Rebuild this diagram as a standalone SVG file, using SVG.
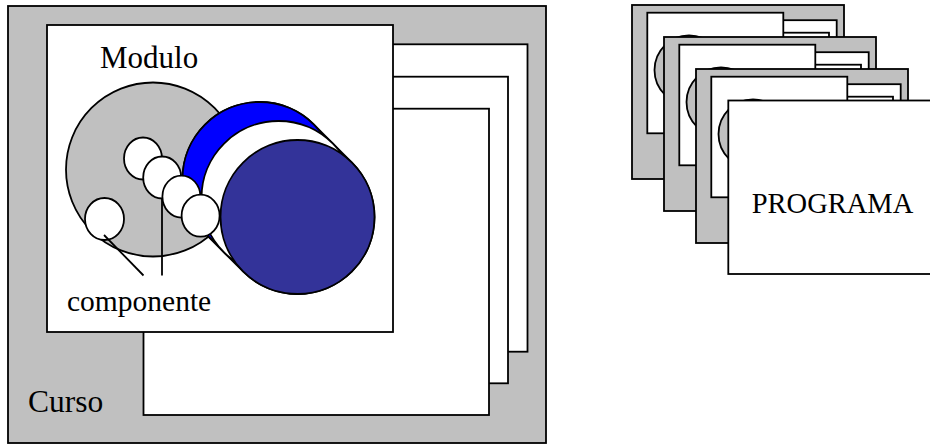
<svg xmlns="http://www.w3.org/2000/svg" width="930" height="447" viewBox="0 0 930 447">
<style>
.s{stroke:#000;stroke-width:1.8}
.g{fill:#C0C0C0}
.w{fill:#fff}
.b{fill:#0000FF}
.d{fill:#333399}
.ln{stroke:#000;stroke-width:1.8;fill:none}
text{font-family:'Liberation Serif','Times New Roman',serif;fill:#000}
</style>
<rect width="930" height="447" fill="#fff"/>
<g id="curso">
<rect class="s g" x="8" y="6" width="538" height="437"/>
<rect class="s w" x="182" y="44.3" width="345.5" height="307.4"/>
<rect class="s w" x="163" y="76.7" width="345" height="306.6"/>
<rect class="s w" x="143.5" y="108.7" width="345.5" height="306.3"/>
<text x="28" y="411.5" font-size="31.5">Curso</text>
</g>
<g id="modulo">
<rect class="s w" x="47" y="25" width="346" height="307"/>
<text x="100" y="68.3" font-size="31">Modulo</text>
<circle class="s g" cx="153" cy="169.5" r="87"/>
</g>
<g id="discos">
<path class="s w" d="M313.95 124.55 L351.95 162.55 A77 77 0 0 1 243.05 271.45 L205.05 233.45 A77 77 0 0 1 313.95 124.55 Z"/>
<circle class="s b" cx="259.5" cy="179" r="77"/>
<circle class="s w" cx="278.5" cy="198" r="77"/>
<circle class="s d" cx="297.5" cy="217" r="77"/>
</g>
<g id="componentes">
<ellipse class="s w" cx="143" cy="158.5" rx="19" ry="21"/>
<ellipse class="s w" cx="162.2" cy="177.5" rx="19" ry="21"/>
<ellipse class="s w" cx="181.4" cy="196.6" rx="19" ry="21"/>
<ellipse class="s w" cx="200.6" cy="215.7" rx="19" ry="21"/>
<ellipse class="s w" cx="104.5" cy="219" rx="19.5" ry="21"/>
<text x="67" y="311" font-size="29.5">componente</text>
</g>
<g id="connectors">
<line class="ln" x1="104" y1="235" x2="143.5" y2="275.5"/>
<line class="ln" x1="162" y1="198" x2="162" y2="275.5"/>
</g>
<defs>
<g id="thumb">
<rect class="s g" x="632" y="5" width="212" height="174"/>
<rect class="s w" x="700.6" y="20.2" width="136.1" height="123.2"/>
<rect class="s w" x="693" y="32.7" width="136" height="123.1"/>
<rect class="s w" x="685.6" y="46.2" width="135.9" height="122.8"/>
<rect class="s w" x="647.3" y="12.7" width="136" height="120.6"/>
<circle class="s g" cx="689" cy="70" r="34.5"/>
</g>
</defs>
<g id="programa1"><use href="#thumb"/></g>
<g id="programa2"><use href="#thumb" transform="translate(32 32)"/></g>
<g id="programa3"><use href="#thumb" transform="translate(64 64)"/></g>
<g id="programa">
<rect class="s w" x="728.3" y="100.5" width="212" height="173.5"/>
<text x="751.7" y="212.7" font-size="28.5">PROGRAMA</text>
</g>
</svg>
